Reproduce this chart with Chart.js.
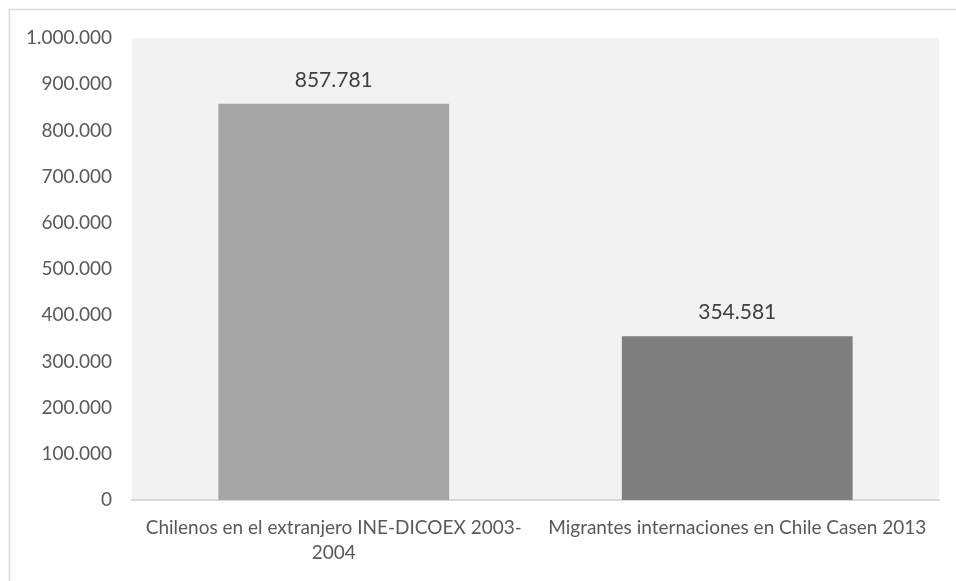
<!DOCTYPE html>
<html>
<head>
<meta charset="utf-8">
<script src="https://cdn.jsdelivr.net/npm/chart.js@4"></script>
<style>
  html, body { margin: 0; padding: 0; background: #ffffff; }
  #wrap { width: 956px; height: 581px; }
</style>
</head>
<body>
<div id="wrap"><canvas id="grafico" width="956" height="581"></canvas></div>
<script>
const categorias = [
    ['Chilenos en el extranjero INE-DICOEX 2003-', '2004'],
    'Migrantes internaciones en Chile Casen 2013'
];
const valores = [857781, 354581];
const coloresBarras = ['#a5a5a5', '#7f7f7f'];
const ticksY = [0, 100000, 200000, 300000, 400000, 500000, 600000, 700000, 800000, 900000, 1000000];

const fmt = v => v.toString().replace(/\B(?=(\d{3})+(?!\d))/g, '.');

// Fondo del área de trazado y marco exterior
const fondo = {
    id: 'fondo',
    beforeDraw(chart) {
        const { ctx, chartArea: a } = chart;
        ctx.save();
        ctx.strokeStyle = '#d9d9d9';
        ctx.lineWidth = 1.5;
        ctx.beginPath();
        ctx.moveTo(9.5, chart.height);
        ctx.lineTo(9.5, 9.5);
        ctx.lineTo(chart.width, 9.5);
        ctx.stroke();
        ctx.fillStyle = '#f2f2f2';
        ctx.fillRect(a.left, a.top, a.right - a.left, a.bottom - a.top);
        ctx.restore();
    }
};

// Etiquetas de valor sobre cada barra
const etiquetas = {
    id: 'etiquetas',
    afterDatasetsDraw(chart) {
        const { ctx } = chart;
        const meta = chart.getDatasetMeta(0);
        ctx.save();
        ctx.fillStyle = '#404040';
        ctx.font = '21px Lato';
        ctx.textAlign = 'center';
        ctx.textBaseline = 'alphabetic';
        meta.data.forEach((bar, i) => {
            ctx.fillText(fmt(valores[i]), bar.x, bar.y - 17);
        });
        ctx.restore();
    }
};

const ctx = document.getElementById('grafico').getContext('2d');
new Chart(ctx, {
    type: 'bar',
    data: {
        labels: categorias,
        datasets: [{
            data: valores,
            backgroundColor: coloresBarras,
            borderWidth: 0,
            categoryPercentage: 1,
            barPercentage: 0.572
        }]
    },
    options: {
        responsive: false,
        animation: false,
        layout: { padding: { top: 38, right: 17, left: 0, bottom: 0 } },
        plugins: {
            legend: { display: false },
            tooltip: { enabled: false }
        },
        scales: {
            x: {
                grid: { display: false, drawTicks: false },
                border: { display: true, color: '#d9d9d9', width: 2 },
                ticks: {
                    color: '#595959',
                    font: { family: 'Lato', size: 19, lineHeight: 1.32 },
                    padding: 15,
                    maxRotation: 0,
                    autoSkip: false
                },
                afterFit(scale) { scale.height = 81; }
            },
            y: {
                min: 0,
                max: 1000000,
                grid: { display: false, drawTicks: false },
                border: { display: false },
                afterBuildTicks(scale) { scale.ticks = ticksY.map(v => ({ value: v })); },
                ticks: {
                    color: '#595959',
                    font: { family: 'Lato', size: 19 },
                    padding: 20,
                    callback: v => fmt(v)
                },
                afterFit(scale) { scale.width = 132; }
            }
        }
    },
    plugins: [fondo, etiquetas]
});
</script>
</body>
</html>
